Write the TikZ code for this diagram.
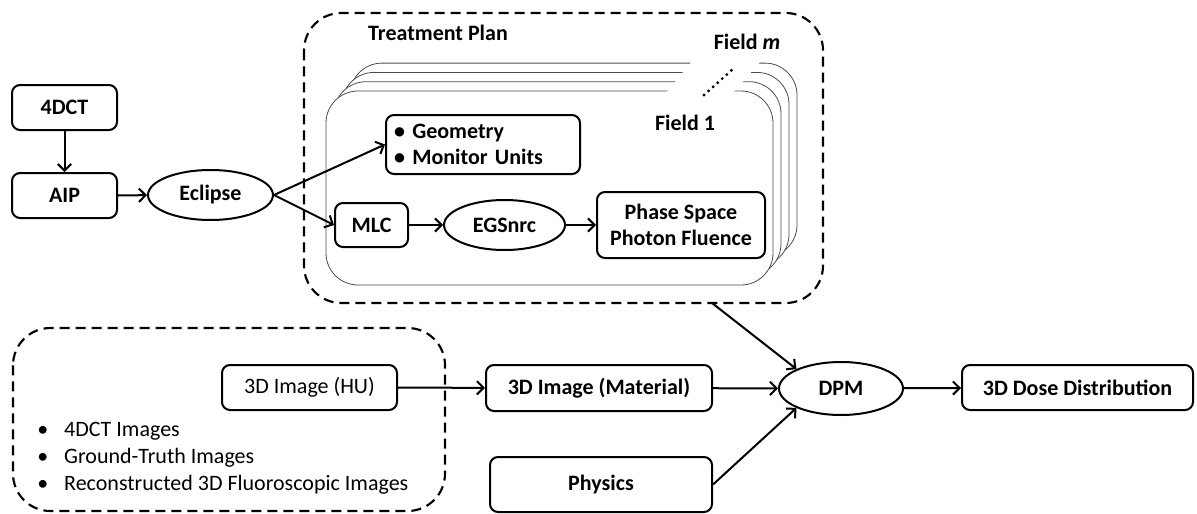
\documentclass[tikz,border=0pt]{standalone}
\usepackage{fontspec}
\setmainfont{Carlito}
\usetikzlibrary{arrows.meta,shapes.geometric}

\newcommand\labelsize{\fontsize{16.5}{19.8}\selectfont}
\tikzset{
  box/.style={draw,line width=1.5pt,rounded corners=6pt,align=center,inner sep=2pt,font=\labelsize\bfseries},
  oval/.style={draw,ellipse,line width=1.5pt,inner sep=0pt,font=\labelsize\bfseries},
  title/.style={font=\labelsize\bfseries},
  group/.style={line width=1.6pt,dash pattern=on 7.5pt off 4.5pt,rounded corners=28pt},
  field/.style={draw=black!70,line width=0.6pt,fill=white,rounded corners=24pt},
  link/.style={-{Straight Barb[length=5pt,width=10pt]},line width=1.5pt},
}

\begin{document}
\begin{tikzpicture}[x=0.75pt,y=0.75pt,yscale=-1,xscale=1]
\useasboundingbox (0,0) rectangle (1197,514);

%Shape: Dashed group [treatment plan]
\draw[group] (304,13) rectangle (823,303);
\coordinate (planout) at (712,303);
%Shape: Dashed group [images]
\draw[group] (13,328) rectangle (445,511);

%Shape: stacked fields, back to front
\foreach \k in {3,2,1,0}
  \draw[field] (326+8*\k,91-9.3*\k) rectangle (773+8*\k,285-9.3*\k);
\fill[white] (665,94) -- (732,94) -- (762,60) -- (693,60) -- cycle;
\draw[line width=2.4pt,line cap=round,dash pattern=on 0pt off 4.6pt] (704,95) -- (733,69);

% Text Node
\node[title] (plantitle) at (438,33) {Treatment Plan};
% Text Node
\node[title] (fieldm) at (747,42) {Field \textit{m}};
% Text Node
\node[title] (field1) at (685,123) {Field 1};

% Nodes, left column
\node[box,minimum width=78.75pt,minimum height=33.75pt] (ct) at (64.5,107.5) {4DCT};
\node[box,minimum width=78.75pt,minimum height=33.75pt] (aip) at (64.5,195.5) {AIP};
\node[oval,minimum width=93.75pt,minimum height=37.5pt] (eclipse) at (210.5,195) {Eclipse};

% Nodes, field 1
\node[box,inner xsep=6pt,text width=133.5pt,minimum height=44.25pt,align=left] (geom) at (483,144.5) {\textbullet\ Geometry\\\textbullet\ Monitor Units};
\node[box,minimum width=54.75pt,minimum height=33pt] (mlc) at (371.5,225) {MLC};
\node[oval,minimum width=90.75pt,minimum height=37.5pt] (egs) at (504.5,225) {EGSnrc};
\node[box,minimum width=126pt,minimum height=49.5pt] (phase) at (681,225) {Phase Space\\Photon Fluence};

% Nodes, bottom row
\node[box,font=\labelsize,minimum width=131.25pt,minimum height=33.75pt] (hu) at (309.5,387.5) {3D Image (HU)};
\node[box,minimum width=169.5pt,minimum height=34.5pt] (mat) at (599,388) {3D Image (Material)};
\node[box,minimum width=166.5pt,minimum height=41.25pt] (physics) at (601,484.5) {Physics};
\node[oval,minimum width=93pt,minimum height=39.75pt] (dpm) at (841,388.5) {DPM};
\node[box,minimum width=173.25pt,minimum height=33.75pt] (dose) at (1077.5,387.5) {3D Dose Distribution};

% Text Node
\node[anchor=west,inner sep=0pt,font=\labelsize] (imglist) at (37,458) {\begin{tabular}{@{}l@{\hspace{12pt}}l@{}}
\textbullet & 4DCT Images\\[0.5pt]
\textbullet & Ground-Truth Images\\[0.5pt]
\textbullet & Reconstructed 3D Fluoroscopic Images
\end{tabular}};

% Connectors
\draw[link] (ct) -- (aip);
\draw[link] (aip) -- (eclipse);
\draw[link] (eclipse.east) -- (geom.west);
\draw[link] (eclipse.east) -- (mlc.west);
\draw[link] (mlc) -- (egs);
\draw[link] (egs) -- (phase);
\draw[link] (hu) -- (mat);
\draw[link] (mat) -- (dpm);
\draw[link] (physics.east) -- (dpm.south west);
\draw[link] (planout) -- (dpm.north west);
\draw[link] (dpm) -- (dose);

\end{tikzpicture}
\end{document}
